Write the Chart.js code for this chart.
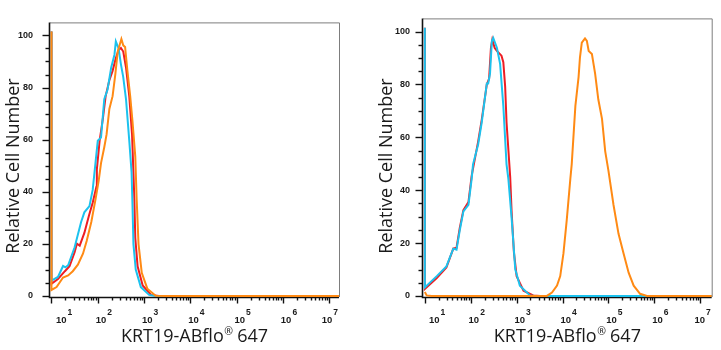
<!DOCTYPE html>
<html>
<head>
<meta charset="utf-8">
<script src="https://cdn.jsdelivr.net/npm/chart.js@4.4.1/dist/chart.umd.min.js"></script>
<style>
  html, body { margin: 0; padding: 0; background: #fff; }
  .panel { position: absolute; top: 0; height: 350px; }
  #left { left: 0; width: 360px; }
  #right { left: 360px; width: 361px; }
</style>
</head>
<body>
<div class="panel" id="left"><canvas id="leftChart" width="360" height="350"></canvas></div>
<div class="panel" id="right"><canvas id="rightChart" width="361" height="350"></canvas></div>
<script>
// x values are log10 of the KRT19-ABflo 647 intensity, y is relative cell number
const decades = [1, 2, 3, 4, 5, 6, 7];
const countTicks = [0, 20, 40, 60, 80, 100];

// left sample
const leftBlank = [[1.00, 101.5], [1.00, 4.7], [1.14, 6.5], [1.29, 9.5], [1.39, 11.4], [1.50, 16.8], [1.55, 20.1], [1.61, 19.3], [1.71, 24.2], [1.81, 30.9], [1.89, 35.8], [1.97, 41.9], [1.98, 48.6], [2.04, 59.6], [2.11, 68.1], [2.17, 76.7], [2.25, 82.8], [2.32, 86.4], [2.39, 91.3], [2.45, 94.4], [2.50, 95.2], [2.55, 93.8], [2.61, 87.7], [2.68, 76.7], [2.74, 62], [2.77, 47.4], [2.79, 37], [2.81, 22.3], [2.86, 11.4], [2.97, 4], [3.15, 0.4], [3.32, 0], [7.4, 0]];
const leftIsotype = [[1.00, 101.5], [1.00, 5.9], [1.14, 7.3], [1.25, 11.5], [1.30, 11.0], [1.36, 11.8], [1.50, 18.7], [1.64, 28.4], [1.71, 32.1], [1.82, 34.5], [1.89, 40.7], [1.95, 51], [2.00, 59.6], [2.07, 60.8], [2.14, 75.5], [2.21, 79.1], [2.29, 87.7], [2.36, 92.6], [2.39, 97.7], [2.45, 95], [2.50, 88.9], [2.55, 84], [2.61, 75.5], [2.68, 59.6], [2.73, 47.4], [2.75, 34.5], [2.77, 19.9], [2.82, 10.1], [2.93, 3.4], [3.11, 0.4], [3.25, 0], [7.4, 0]];
const leftKrt19 = [[1.00, 101.5], [1.00, 2.3], [1.11, 3.4], [1.25, 7.1], [1.36, 7.9], [1.46, 9.5], [1.57, 12], [1.68, 16.2], [1.76, 21.1], [1.86, 28.4], [1.95, 37], [2.02, 44.3], [2.07, 51], [2.14, 57.1], [2.19, 62], [2.25, 71.8], [2.32, 76.7], [2.38, 85.2], [2.43, 93.8], [2.48, 96.8], [2.51, 98.6], [2.55, 96.2], [2.59, 95.6], [2.64, 86.4], [2.70, 76.7], [2.75, 66.9], [2.81, 53.5], [2.84, 37], [2.88, 19.9], [2.95, 8.9], [3.07, 2.8], [3.25, 0.1], [3.47, 0], [7.4, 0]];

// right sample
const rightBlank = [[1.00, 101.5], [1.00, 2.6], [1.26, 6.8], [1.47, 10.8], [1.62, 17.9], [1.69, 18.2], [1.76, 25.6], [1.84, 32.5], [1.95, 35.5], [2.02, 45.4], [2.16, 58.3], [2.24, 66.7], [2.35, 80], [2.40, 82.2], [2.44, 93.9], [2.47, 97], [2.52, 93.9], [2.57, 92.7], [2.67, 90.9], [2.71, 88.4], [2.75, 79.2], [2.78, 65.7], [2.86, 44.9], [2.89, 32.1], [2.94, 16.7], [3.00, 7.5], [3.15, 2], [3.36, 0.2], [3.51, 0], [7.4, 0]];
const rightIsotype = [[1.00, 101.5], [1.00, 3.2], [1.26, 7.5], [1.47, 11.2], [1.62, 17.9], [1.69, 17.5], [1.76, 24.7], [1.84, 32], [1.95, 34.5], [2.02, 44.3], [2.05, 49.8], [2.16, 57.2], [2.24, 65.7], [2.35, 80.4], [2.38, 80.4], [2.42, 84.1], [2.46, 96.4], [2.49, 97.6], [2.57, 93.9], [2.64, 87.8], [2.71, 71.9], [2.78, 49.8], [2.82, 44.3], [2.89, 29.6], [2.97, 10.1], [3.07, 3.9], [3.29, 0.2], [3.40, 0], [7.4, 0]];
const rightKrt19 = [[1.00, 1.5], [1.04, 0.2], [1.15, 0], [3.66, 0], [3.77, 1.3], [3.88, 3.9], [3.95, 7.5], [4.02, 16.1], [4.09, 28.4], [4.17, 44.3], [4.20, 49.8], [4.28, 71.9], [4.35, 82.9], [4.38, 90.3], [4.42, 95.8], [4.49, 97.4], [4.53, 96.5], [4.57, 92.7], [4.64, 91.5], [4.71, 84.1], [4.78, 74.3], [4.86, 67], [4.93, 54.7], [5.00, 47.4], [5.11, 34.5], [5.22, 23.5], [5.33, 16.1], [5.44, 8.8], [5.55, 3.9], [5.69, 0.8], [5.84, 0], [7.4, 0]];

const RED = '#ee1d23';
const CYAN = '#1cc2ee';
const ORANGE = '#ff8a14';

// frame, log ticks and titles are drawn by hand in FlowJo style
const flowAxes = {
  id: 'flowAxes',
  beforeDatasetsDraw(chart) {
    const { ctx, chartArea: a, scales: { x, y } } = chart;
    ctx.save();
    ctx.strokeStyle = '#7d7d7d';
    ctx.lineWidth = 1;
    ctx.beginPath();
    ctx.moveTo(a.left, a.top + 0.5);
    ctx.lineTo(a.right + 0.5, a.top + 0.5);
    ctx.lineTo(a.right + 0.5, a.bottom);
    ctx.stroke();

    ctx.strokeStyle = '#111';
    ctx.lineWidth = 1.6;
    ctx.beginPath();
    ctx.moveTo(a.left - 0.5, a.top);
    ctx.lineTo(a.left - 0.5, a.bottom + 0.5);
    ctx.lineTo(a.right, a.bottom + 0.5);
    ctx.stroke();

    // count axis: majors every 20, minors every 5
    ctx.lineWidth = 1.4;
    for (let v = 0; v <= 100; v += 5) {
      const py = Math.round(y.getPixelForValue(v)) + 0.5;
      const len = v % 20 === 0 ? 7 : 4;
      ctx.beginPath();
      ctx.moveTo(a.left - 0.5, py);
      ctx.lineTo(a.left - 0.5 - len, py);
      ctx.stroke();
    }

    // log axis: decades plus 2..9 minors
    for (let d = 0; d <= 7; d++) {
      for (let k = 1; k <= 9; k++) {
        const lv = d + Math.log10(k);
        if (lv < x.min - 1e-6 || lv > x.max) continue;
        const px = Math.round(x.getPixelForValue(lv)) + 0.5;
        const len = k === 1 ? 6.5 : 3.5;
        ctx.beginPath();
        ctx.moveTo(px, a.bottom);
        ctx.lineTo(px, a.bottom + len);
        ctx.stroke();
      }
    }
    ctx.restore();
  },
  afterDraw(chart) {
    const { ctx, chartArea: a, scales: { x } } = chart;
    ctx.save();
    ctx.fillStyle = '#1a1a1a';
    ctx.textBaseline = 'alphabetic';

    // decade labels, 10 with a raised exponent
    const base = 'bold 9.5px "Liberation Sans", Arial, sans-serif';
    const expo = 'bold 8.5px "Liberation Sans", Arial, sans-serif';
    decades.forEach(d => {
      ctx.font = base;
      const w10 = ctx.measureText('10').width;
      ctx.font = expo;
      const we = ctx.measureText(String(d)).width;
      const w = w10 + 1 + we;
      const cx = x.getPixelForValue(d) + 6;
      let left = cx - w / 2;
      if (left < a.left + 6) left = a.left + 6;
      if (left + w > a.right - 1) left = a.right - 1 - w;
      const baseY = a.bottom + 25.5;
      ctx.font = base;
      ctx.textAlign = 'left';
      ctx.fillText('10', left, baseY);
      ctx.font = expo;
      ctx.fillText(String(d), left + w10 + 1, baseY - 7.5);
    });

    // x title with a small raised registered mark
    const tFont = '18px "Open Sans", sans-serif';
    const rFont = '10.5px "Open Sans", sans-serif';
    const p1 = 'KRT19-ABflo', p2 = '\u00ae', p3 = ' 647';
    ctx.font = tFont;
    const w1 = ctx.measureText(p1).width, w3 = ctx.measureText(p3).width;
    ctx.font = rFont;
    const w2 = ctx.measureText(p2).width;
    const tx = (a.left + a.right) / 2 - (w1 + w2 + w3) / 2;
    const ty = 341.5;
    ctx.textAlign = 'left';
    ctx.font = tFont;
    ctx.fillText(p1, tx, ty);
    ctx.font = rFont;
    ctx.fillText(p2, tx + w1 + 0.5, ty - 6.5);
    ctx.font = tFont;
    ctx.fillText(p3, tx + w1 + w2, ty);

    // y title
    ctx.translate(a.left - 36.5, 166);
    ctx.rotate(-Math.PI / 2);
    ctx.textAlign = 'center';
    ctx.textBaseline = 'middle';
    ctx.font = tFont;
    ctx.fillText('Relative Cell Number', 0, 0);
    ctx.restore();
  }
};

function histogram(id, blank, isotype, krt19, xRange, padding, labelGap) {
  const line = (label, pts, color, order) => ({
    label: label,
    data: pts.map(p => ({ x: p[0], y: p[1] })),
    borderColor: color,
    borderWidth: 2,
    pointRadius: 0,
    tension: 0,
    fill: false,
    order: order
  });
  return new Chart(document.getElementById(id), {
    type: 'line',
    data: {
      datasets: [
        line('Blank control', blank, RED, 3),
        line('Isotype control', isotype, CYAN, 2),
        line('KRT19', krt19, ORANGE, 1)
      ]
    },
    options: {
      responsive: false,
      animation: false,
      devicePixelRatio: 1,
      layout: { padding: padding },
      plugins: { legend: { display: false }, tooltip: { enabled: false } },
      scales: {
        x: {
          type: 'linear',
          min: xRange[0],
          max: xRange[1],
          grid: { display: false, drawTicks: false },
          border: { display: false },
          ticks: { display: false },
          afterFit: s => { s.height = 53; }
        },
        y: {
          type: 'linear',
          min: -0.4,
          max: 105,
          grid: { display: false, drawTicks: false },
          border: { display: false },
          afterBuildTicks: s => { s.ticks = countTicks.map(v => ({ value: v })); },
          ticks: {
            padding: labelGap,
            color: '#1a1a1a',
            font: { family: '"Liberation Sans", Arial, sans-serif', size: 9, weight: 'bold' }
          },
          afterFit: s => { s.width = 50; }
        }
      }
    },
    plugins: [flowAxes]
  });
}

histogram('leftChart', leftBlank, leftIsotype, leftKrt19, [0.968, 7.21], { left: 0, top: 9, right: 21, bottom: 0 }, 17);
histogram('rightChart', rightBlank, rightIsotype, rightKrt19, [0.96, 7.25], { left: 13, top: 10, right: 9.3, bottom: 0 }, 13);
</script>
</body>
</html>
